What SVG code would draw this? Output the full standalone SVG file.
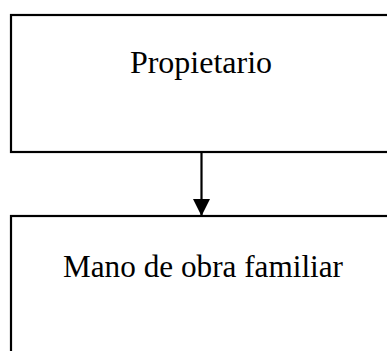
<svg xmlns="http://www.w3.org/2000/svg" width="387" height="351" viewBox="0 0 387 351">
<style>
.box{fill:#fff;stroke:#000;stroke-width:2.2}
.lbl{font-family:"Liberation Serif","Times New Roman",serif;font-size:32px;fill:#000;text-anchor:middle}
.conn{stroke:#000;stroke-width:2.2;fill:none}
</style>
<defs>
<marker id="ah" markerUnits="userSpaceOnUse" markerWidth="18" markerHeight="17" refX="17" refY="8.5" orient="auto" viewBox="0 0 18 17">
<path d="M0,0 L17,8.5 L0,17 Z" fill="#000"/>
</marker>
</defs>
<rect width="387" height="351" fill="#fff"/>
<g id="node-propietario">
<rect class="box" x="11" y="15" width="390" height="137"/>
<text class="lbl" x="201" y="73">Propietario</text>
</g>
<g id="node-mano">
<rect class="box" x="11" y="216" width="390" height="150"/>
<text class="lbl" x="203" y="277" textLength="280" lengthAdjust="spacingAndGlyphs">Mano de obra familiar</text>
</g>
<g id="connectors">
<line class="conn" x1="201.5" y1="152" x2="201.5" y2="216" marker-end="url(#ah)"/>
</g>
</svg>
